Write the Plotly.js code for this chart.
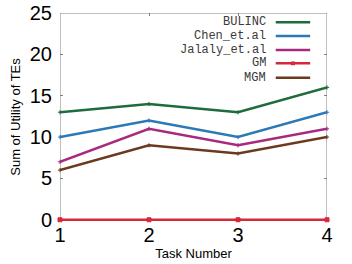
<!DOCTYPE html>
<html>
<head>
<meta charset="utf-8">
<script src="https://cdn.plot.ly/plotly-3.0.1.min.js"></script>
<style>html,body{margin:0;padding:0;background:#fff;}#chart{width:352px;height:264px;}</style>
</head>
<body>
<div id="chart"></div>
<script>
const tasks = [1, 2, 3, 4];
const seriesNames = ["BULINC", "Chen_et.al", "Jalaly_et.al", "GM", "MGM"];
const bulinc = [13, 14, 13, 16];
const chen = [10, 12, 10, 13];
const jalaly = [7, 11, 9, 11];
const gm = [0, 0, 0, 0];
const mgm = [6, 9, 8, 10];
const yTicks = [0, 5, 10, 15, 20, 25];

const colors = ["#1e6b3c", "#2b79b6", "#a8297d", "#d6283a", "#6b3a1e"];
const symbols = ["cross-thin", "cross-thin", "cross-thin", "square", "cross-thin"];
const sizes = [3, 3, 3, 4, 3];
const allSeries = [bulinc, chen, jalaly, gm, mgm];

const traces = allSeries.map((vals, i) => ({
  x: tasks, y: vals, name: seriesNames[i], type: "scatter", mode: "lines+markers",
  line: {color: colors[i], width: 2.5},
  marker: {color: colors[i], symbol: symbols[i], size: sizes[i], line: {color: colors[i], width: 1}},
  cliponaxis: false, showlegend: false
}));

const legY = [0.955, 0.889, 0.822, 0.758, 0.689];
const annotations = seriesNames.map((n, i) => ({
  xref: "paper", yref: "paper", x: 0.775, y: legY[i], xanchor: "right", yanchor: "middle",
  text: n, showarrow: false, borderpad: 0,
  font: {family: "Liberation Mono, monospace", size: 12, color: "#3a3a3a"}
}));
const shapes = [
  {type: "rect", xref: "x", yref: "y", x0: 1, x1: 4, y0: 0, y1: 25, line: {color: "#808080", width: 1}, layer: "below"}
];
seriesNames.forEach((n, i) => {
  shapes.push({type: "line", xref: "paper", yref: "paper", x0: 0.808, x1: 0.937, y0: legY[i], y1: legY[i],
    line: {color: colors[i], width: 2.5}});
});
shapes.push({type: "rect", xref: "paper", yref: "paper", x0: 0.865, x1: 0.88, y0: legY[3] - 0.009, y1: legY[3] + 0.009,
  fillcolor: colors[3], line: {width: 0}});

const layout = {
  width: 352, height: 264,
  margin: {l: 60, r: 24.5, t: 13.3, b: 42.8},
  paper_bgcolor: "#fff", plot_bgcolor: "#fff",
  showlegend: false,
  font: {family: "Liberation Sans, Arial, sans-serif", color: "#000"},
  xaxis: {
    range: [1, 4], tickvals: tasks, ticktext: tasks.map(String),
    showgrid: false, zeroline: false, showline: false,
    ticks: "inside", ticklen: 3, tickcolor: "#808080", mirror: "ticks",
    tickfont: {size: 20, color: "#000"},
    title: {text: "Task Number", font: {size: 13, color: "#000"}, standoff: 3},
    layer: "below traces"
  },
  yaxis: {
    range: [-0.15, 25], tickvals: yTicks, ticktext: yTicks.map(String),
    showgrid: false, zeroline: false, showline: false,
    ticks: "inside", ticklen: 3, tickcolor: "#808080", mirror: "ticks",
    tickfont: {size: 20, color: "#000"}, ticklabelstandoff: 7,
    title: {text: "Sum of Utility of TEs", font: {size: 13, color: "#000"}, standoff: 6},
    layer: "below traces"
  },
  annotations: annotations,
  shapes: shapes
};

Plotly.newPlot("chart", traces, layout, {staticPlot: true, displayModeBar: false});
</script>
</body>
</html>
